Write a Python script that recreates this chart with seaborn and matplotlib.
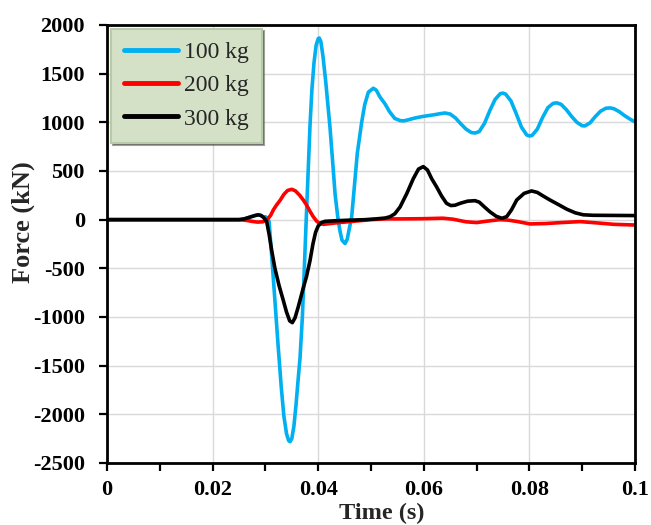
import matplotlib
matplotlib.use("Agg")
import matplotlib.pyplot as plt
import seaborn as sns
import pandas as pd
from matplotlib.ticker import MultipleLocator

# ---- data: impact force histories for three drop masses ----
series_names = ["100 kg", "200 kg", "300 kg"]
series_colors = ["#00b0f0", "#ff0000", "#000000"]

t_100kg = [0.0, 0.01, 0.02, 0.025, 0.026, 0.027, 0.028, 0.02866, 0.0292, 0.0297,
           0.0300, 0.0304, 0.0307, 0.0312, 0.0318, 0.0324, 0.0330, 0.0335, 0.0340,
           0.0344, 0.03466, 0.0350, 0.0354, 0.0358, 0.0362, 0.03655, 0.0370,
           0.03737, 0.0377, 0.0381, 0.03845, 0.0388, 0.0392, 0.0396, 0.0400,
           0.0402, 0.0405, 0.0409, 0.04142, 0.0418, 0.04223, 0.0427, 0.0432,
           0.0437, 0.0441, 0.0445, 0.04508, 0.0455, 0.0459, 0.04634, 0.0468,
           0.0474, 0.04823, 0.0488, 0.0495, 0.05044, 0.0510, 0.0517, 0.05265,
           0.0535, 0.0545, 0.0555, 0.0562, 0.057, 0.058, 0.059, 0.060,
           0.061, 0.062, 0.063, 0.064, 0.065, 0.066, 0.067, 0.068, 0.069, 0.0697,
           0.0705, 0.0715, 0.0725, 0.0735, 0.0745, 0.075, 0.0755, 0.0765, 0.0775,
           0.0785, 0.0795, 0.080, 0.0805, 0.0815, 0.0825, 0.0835, 0.0845, 0.0852,
           0.086, 0.087, 0.088, 0.089, 0.090, 0.0905, 0.0915, 0.0925, 0.0935,
           0.0945, 0.0953, 0.096, 0.097, 0.098, 0.099, 0.100]
f_100kg = [0, 0, 0, 0, 8, 25, 42, 50, 42, 25,
           30, 15, -20, -380, -830, -1290, -1720, -2020, -2200,
           -2270, -2281, -2250, -2120, -1900, -1640, -1425, -1000,
           -500, -40, 500, 973, 1330, 1610, 1790, 1860,
           1866, 1830, 1680, 1420, 1200, 950, 620, 260,
           30, -110, -210, -245, -200, -90, 30, 310,
           680, 1000, 1180, 1310, 1350, 1330, 1260, 1190,
           1110, 1040, 1018, 1015, 1025, 1040, 1052, 1062,
           1070, 1078, 1088, 1096, 1085, 1045, 985, 930, 895, 890,
           905, 990, 1120, 1235, 1295, 1300, 1290, 1220, 1090,
           950, 870, 860, 865, 930, 1050, 1150, 1195, 1200,
           1185, 1130, 1060, 1000, 965, 963, 995, 1060, 1115,
           1145, 1148, 1140, 1110, 1070, 1035, 1004]

t_200kg = [0.0, 0.01, 0.02, 0.025, 0.0265, 0.0275, 0.0285, 0.0295, 0.0300, 0.0304,
           0.0310, 0.0315, 0.0321, 0.0328, 0.0335, 0.0342, 0.0350, 0.0357, 0.0365,
           0.0372, 0.0378, 0.0383, 0.0390, 0.0397, 0.0403, 0.0410, 0.0420, 0.0432,
           0.0450, 0.0470, 0.0500, 0.0530, 0.0560, 0.0600, 0.0636, 0.0655, 0.0680,
           0.0700, 0.0720, 0.0744, 0.0760, 0.0778, 0.0801, 0.0830, 0.0860, 0.0896,
           0.0925, 0.0960, 0.100]
f_200kg = [0, 0, 0, 0, -8, -18, -25, -22, -10, 5,
           45, 100, 150, 200, 260, 300, 312, 295, 250,
           200, 150, 100, 35, -15, -40, -48, -42, -34,
           -25, -15, 0, 8, 8, 10, 15, 5, -22,
           -30, -15, 0, -5, -20, -44, -40, -30, -20,
           -32, -48, -55]

t_300kg = [0.0, 0.01, 0.02, 0.025, 0.026, 0.027, 0.028, 0.02866, 0.0292, 0.0297,
           0.03024, 0.0307, 0.0312, 0.0318, 0.0326, 0.03339, 0.0340, 0.0346, 0.0351,
           0.0356, 0.0362, 0.03718, 0.0378, 0.03845, 0.0390, 0.0395, 0.0400, 0.0406,
           0.0413, 0.0430, 0.0460, 0.0489, 0.0510, 0.0527, 0.0536, 0.0545, 0.0555,
           0.0568, 0.0580, 0.0590, 0.0599, 0.0607, 0.0615, 0.0624, 0.0634, 0.0643,
           0.0651, 0.0659, 0.0670, 0.0683, 0.0697, 0.0705, 0.0715, 0.0725, 0.0737,
           0.0748, 0.0757, 0.0766, 0.0776, 0.0790, 0.0804, 0.0815, 0.0827, 0.0839,
           0.0855, 0.0871, 0.0887, 0.0902, 0.0920, 0.100]
f_300kg = [0, 0, 0, 0, 8, 25, 42, 50, 42, 20,
           -20, -150, -320, -500, -680, -830, -950, -1040, -1058,
           -1010, -900, -700, -580, -420, -250, -130, -65, -30,
           -17, -12, -5, 0, 8, 17, 30, 60, 130,
           271, 420, 520, 545, 510, 420, 339, 240, 168,
           145, 148, 170, 190, 195, 180, 130, 82, 35,
           14, 31, 100, 202, 270, 295, 280, 240, 202,
           155, 107, 70, 50, 45, 42]

x_ticks = [0, 0.02, 0.04, 0.06, 0.08, 0.1]
x_tick_labels = ["0", "0.02", "0.04", "0.06", "0.08", "0.1"]
y_ticks = list(range(-2500, 2001, 500))

frames = []
for name, t, f in zip(series_names, [t_100kg, t_200kg, t_300kg], [f_100kg, f_200kg, f_300kg]):
    frames.append(pd.DataFrame({"Time": t, "Force": f, "Mass": name}))
df = pd.concat(frames, ignore_index=True)

# ---- figure ----
sns.set_theme(style="white")
plt.rcParams["font.family"] = ["Liberation Serif", "DejaVu Serif"]
plt.rcParams["axes.unicode_minus"] = False

fig = plt.figure(figsize=(6.51, 5.25), dpi=100)
ax = fig.add_axes([0.1644, 0.1181, 0.8110, 0.8343])

sns.lineplot(data=df, x="Time", y="Force", hue="Mass", hue_order=series_names,
             palette=series_colors, estimator=None, sort=False, linewidth=2.6,
             ax=ax, legend=True)
for ln in ax.get_lines():
    ln.set_solid_joinstyle("round")
    ln.set_solid_capstyle("round")

ax.set_xlim(0, 0.1)
ax.set_ylim(-2500, 2000)
ax.set_xticks(x_ticks)
ax.set_xticklabels(x_tick_labels)
ax.xaxis.set_minor_locator(MultipleLocator(0.01))
ax.set_yticks(y_ticks)

ax.grid(True, which="major", color="#d9d9d9", linewidth=1.0)
ax.set_axisbelow(True)
for sp in ax.spines.values():
    sp.set_visible(True)
    sp.set_color("black")
    sp.set_linewidth(2.0)

ax.tick_params(axis="both", which="major", direction="out", length=6, width=1.6,
               colors="black", labelsize=16)
ax.tick_params(axis="x", which="major", pad=6, bottom=True)
ax.tick_params(axis="y", which="major", pad=10, left=True)
ax.tick_params(axis="x", which="minor", direction="out", length=6, width=1.6,
               colors="black", bottom=True)
for lab in ax.get_xticklabels() + ax.get_yticklabels():
    lab.set_fontweight("bold")

ax.set_xlabel("Time (s)", fontsize=17.5, fontweight="bold")
ax.set_ylabel("Force (kN)", fontsize=19, fontweight="bold")
ax.xaxis.set_label_coords(0.52, -0.092)
ax.yaxis.set_label_coords(-0.137, 0.55)

leg = ax.legend(loc="upper left", bbox_to_anchor=(0.0, 1.0), fontsize=17,
                frameon=True, fancybox=False, shadow=True, handlelength=2.3,
                handletextpad=0.25, labelspacing=0.5, borderpad=0.55,
                borderaxespad=0.15)
frame = leg.get_frame()
frame.set_facecolor("#d4e1c7")
frame.set_edgecolor("#b9caa9")
frame.set_linewidth(1.5)
frame.set_alpha(1.0)
for line in leg.get_lines():
    line.set_linewidth(3.5)

fig.savefig("out.png", dpi=100)
